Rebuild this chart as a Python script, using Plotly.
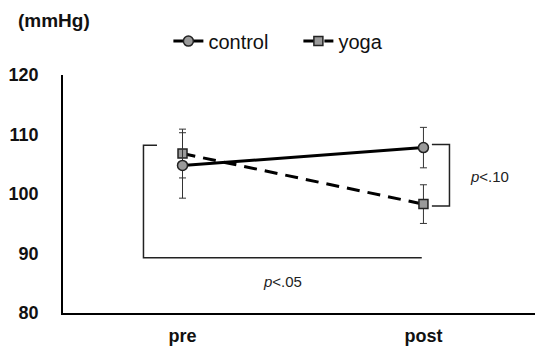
import plotly.graph_objects as go

# ---- data ----
time_labels = ["pre", "post"]
time_pos = [0, 1]
control_mean = [104.8, 107.8]
control_err = [5.5, 3.4]
yoga_mean = [106.8, 98.3]
yoga_err = [4.1, 3.25]

y_ticks = [80, 90, 100, 110, 120]

# significance brackets (data coordinates)
bracket_pre_x = [-0.106, -0.162, -0.162, 0.993]
bracket_pre_y = [108.2, 108.2, 89.3, 89.3]
bracket_post_x = [1.035, 1.108, 1.108, 1.035]
bracket_post_y = [108.3, 108.3, 98.0, 98.0]
p_labels = ["<i>p</i><.05", "<i>p</i><.10"]
p_x = [0.416, 1.273]
p_y = [85.3, 102.9]

FONT = "Liberation Sans, Arial, sans-serif"
L, T, B = 62.5, 75, 34.5
PW, PH = 535 - L, 348 - T - B

fig = go.Figure()

# brackets
for bx, by in [(bracket_pre_x, bracket_pre_y), (bracket_post_x, bracket_post_y)]:
    fig.add_trace(go.Scatter(x=bx, y=by, mode="lines",
                             line=dict(color="#222222", width=1.5),
                             showlegend=False, hoverinfo="skip"))

fig.add_trace(go.Scatter(
    x=time_pos, y=yoga_mean, name="yoga", mode="lines+markers",
    line=dict(color="black", width=3, dash="13px,8px"),
    marker=dict(symbol="square", size=9, color="#9a9a9a",
                line=dict(color="#222222", width=1.5)),
    error_y=dict(type="data", array=yoga_err, visible=True,
                 color="#333333", thickness=1, width=3.5),
))
fig.add_trace(go.Scatter(
    x=time_pos, y=control_mean, name="control", mode="lines+markers",
    line=dict(color="black", width=3),
    marker=dict(symbol="circle", size=10, color="#9a9a9a",
                line=dict(color="#222222", width=1.5)),
    error_y=dict(type="data", array=control_err, visible=True,
                 color="#333333", thickness=1, width=3.5),
))

for t, x, y in zip(p_labels, p_x, p_y):
    fig.add_annotation(x=x, y=y, xref="x", yref="y", text=t, showarrow=False,
                       font=dict(family=FONT, size=15, color="#222222"))

fig.add_annotation(x=(15 - L) / PW, y=1 + (T - 20) / PH, xref="paper", yref="paper",
                   text="<b>(mmHg)</b>", showarrow=False,
                   xanchor="left", yanchor="middle",
                   font=dict(family=FONT, size=19, color="#111111"))

fig.update_layout(
    width=535, height=348,
    margin=dict(l=L, r=0, t=T, b=B, autoexpand=False),
    paper_bgcolor="white", plot_bgcolor="white",
    font=dict(family=FONT, color="#111111"),
    legend=dict(orientation="h", x=(168 - L) / PW, y=1 + (T - 41) / PH,
                xanchor="left", yanchor="middle",
                traceorder="reversed", font=dict(family=FONT, size=20),
                bgcolor="rgba(0,0,0,0)", itemwidth=30,
                entrywidth=85, entrywidthmode="pixels"),
    xaxis=dict(range=[-0.496, 1.463], tickvals=time_pos, ticktext=time_labels,
               showgrid=False, zeroline=False, showline=True, linecolor="black",
               linewidth=2, ticks="", ticklabelstandoff=5,
               tickfont=dict(family=FONT, size=18, color="#111111", weight="bold")),
    yaxis=dict(range=[80, 120], tickvals=y_ticks, showgrid=False, zeroline=False,
               showline=True, linecolor="black", linewidth=1.5, ticks="",
               ticklabelstandoff=19,
               tickfont=dict(family=FONT, size=18, color="#111111", weight="bold")),
)

fig.write_html("out.html")
